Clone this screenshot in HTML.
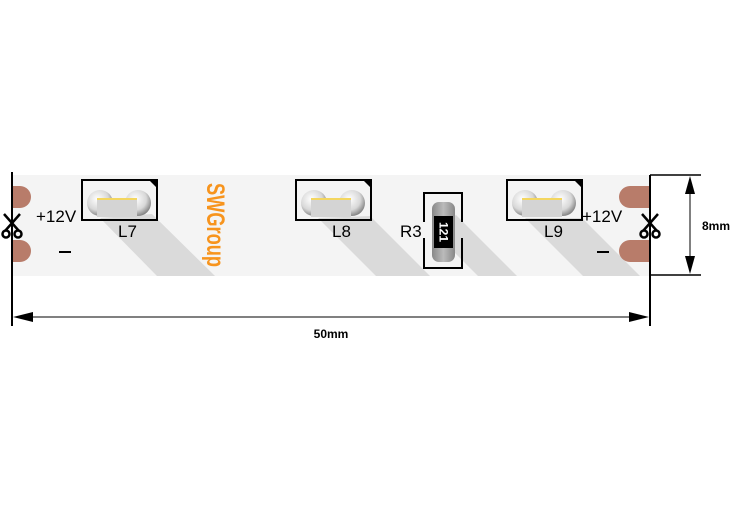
<!DOCTYPE html>
<html><head><meta charset="utf-8"><style>
html,body{margin:0;padding:0;background:#fff;}
svg{display:block;font-family:"Liberation Sans",Arial,sans-serif;}
</style></head><body>
<svg width="731" height="512" viewBox="0 0 731 512" xmlns="http://www.w3.org/2000/svg">
<defs>
<radialGradient id="ball" cx="0.4" cy="0.35" r="0.7">
<stop offset="0" stop-color="#ffffff"/><stop offset="0.6" stop-color="#d8d8d8"/><stop offset="1" stop-color="#777"/>
</radialGradient>
<linearGradient id="res" x1="0" y1="0" x2="1" y2="0">
<stop offset="0" stop-color="#888"/><stop offset="0.5" stop-color="#bbb"/><stop offset="1" stop-color="#888"/>
</linearGradient>
</defs>
<rect x="12" y="175" width="638" height="101" fill="#f4f4f4"/>
<g fill="#dadada">
<polygon points="100,218 152,214 215,276 157,276"/>
<polygon points="318,218 370,216 430,276 376,276"/>
<polygon points="525,218 582,218 640,276 583,276"/>
<polygon points="432,230 456,215 517,276 478,276"/>
<polygon points="190,260 205,276 190,276"/>
</g>
<g fill="#b87c6a">
<path d="M12,186 h8 a11,11 0 0 1 0,22 h-8z"/>
<path d="M12,240 h8 a11,11 0 0 1 0,22 h-8z"/>
<path d="M650,186 h-20 a11,11 0 0 0 0,22 h20z"/>
<path d="M650,240 h-20 a11,11 0 0 0 0,22 h20z"/>
</g>
<g id="led">
<rect x="82" y="180" width="75" height="40" fill="none" stroke="#000" stroke-width="2"/>
<polygon points="150,181 156,181 156,187" fill="#000"/>
<circle cx="100" cy="203" r="13" fill="url(#ball)"/>
<circle cx="138" cy="203" r="13" fill="url(#ball)"/>
<rect x="97" y="198" width="40" height="19" fill="#d4d4d4"/>
<rect x="97" y="198" width="40" height="2" fill="#f3d660"/>
</g>
<use href="#led" x="214"/>
<use href="#led" x="425"/>
<path d="M424,222 V193 H462 V222 M424,238 V268 H462 V238" fill="none" stroke="#000" stroke-width="2"/>
<rect x="432" y="202" width="23" height="60" rx="7" fill="url(#res)"/>
<rect x="434" y="216" width="19" height="32" fill="#000"/>
<text transform="translate(443.5,232) rotate(90)" fill="#fff" font-size="12" font-weight="bold" text-anchor="middle" dominant-baseline="central">121</text>
<g font-size="17" fill="#000">
<text x="36" y="222">+12V</text>
<text x="582" y="222">+12V</text>
<text x="118" y="237">L7</text>
<text x="332" y="237">L8</text>
<text x="544" y="237">L9</text>
<text x="400" y="237">R3</text>
</g>
<rect x="59" y="251" width="12" height="2" fill="#000"/>
<rect x="597" y="251" width="12" height="2" fill="#000"/>
<text transform="translate(207,225) rotate(90) scale(0.73,1)" fill="#f7941d" font-size="25" font-weight="bold" text-anchor="middle">SWGroup</text>
<g stroke="#000" stroke-width="2.5" fill="none">
<path d="M4,214 L19,231 M20,214 L5,231"/>
<circle cx="6" cy="234" r="3.5"/><circle cx="18" cy="234" r="3.5"/>
</g>
<g stroke="#000" stroke-width="2.5" fill="none">
<path d="M642,214 L657,231 M658,214 L643,231"/>
<circle cx="644" cy="234" r="3.5"/><circle cx="656" cy="234" r="3.5"/>
</g>
<line x1="12" y1="172" x2="12" y2="326" stroke="#000" stroke-width="2"/>
<line x1="650" y1="175" x2="650" y2="326" stroke="#000" stroke-width="2"/>
<line x1="650" y1="175" x2="701" y2="175" stroke="#000" stroke-width="1.5"/>
<line x1="650" y1="275" x2="701" y2="275" stroke="#000" stroke-width="1.5"/>
<line x1="30" y1="317" x2="632" y2="317" stroke="#808080" stroke-width="2"/>
<polygon points="13,317 33,312 33,322" fill="#000"/>
<polygon points="649,317 629,312 629,322" fill="#000"/>
<line x1="690" y1="190" x2="690" y2="260" stroke="#808080" stroke-width="2"/>
<polygon points="690,176 685,194 695,194" fill="#000"/>
<polygon points="690,274 685,256 695,256" fill="#000"/>
<text x="702" y="230" font-size="12" font-weight="bold">8mm</text>
<text x="331" y="338" font-size="12" font-weight="bold" text-anchor="middle">50mm</text>
</svg>
</body></html>
